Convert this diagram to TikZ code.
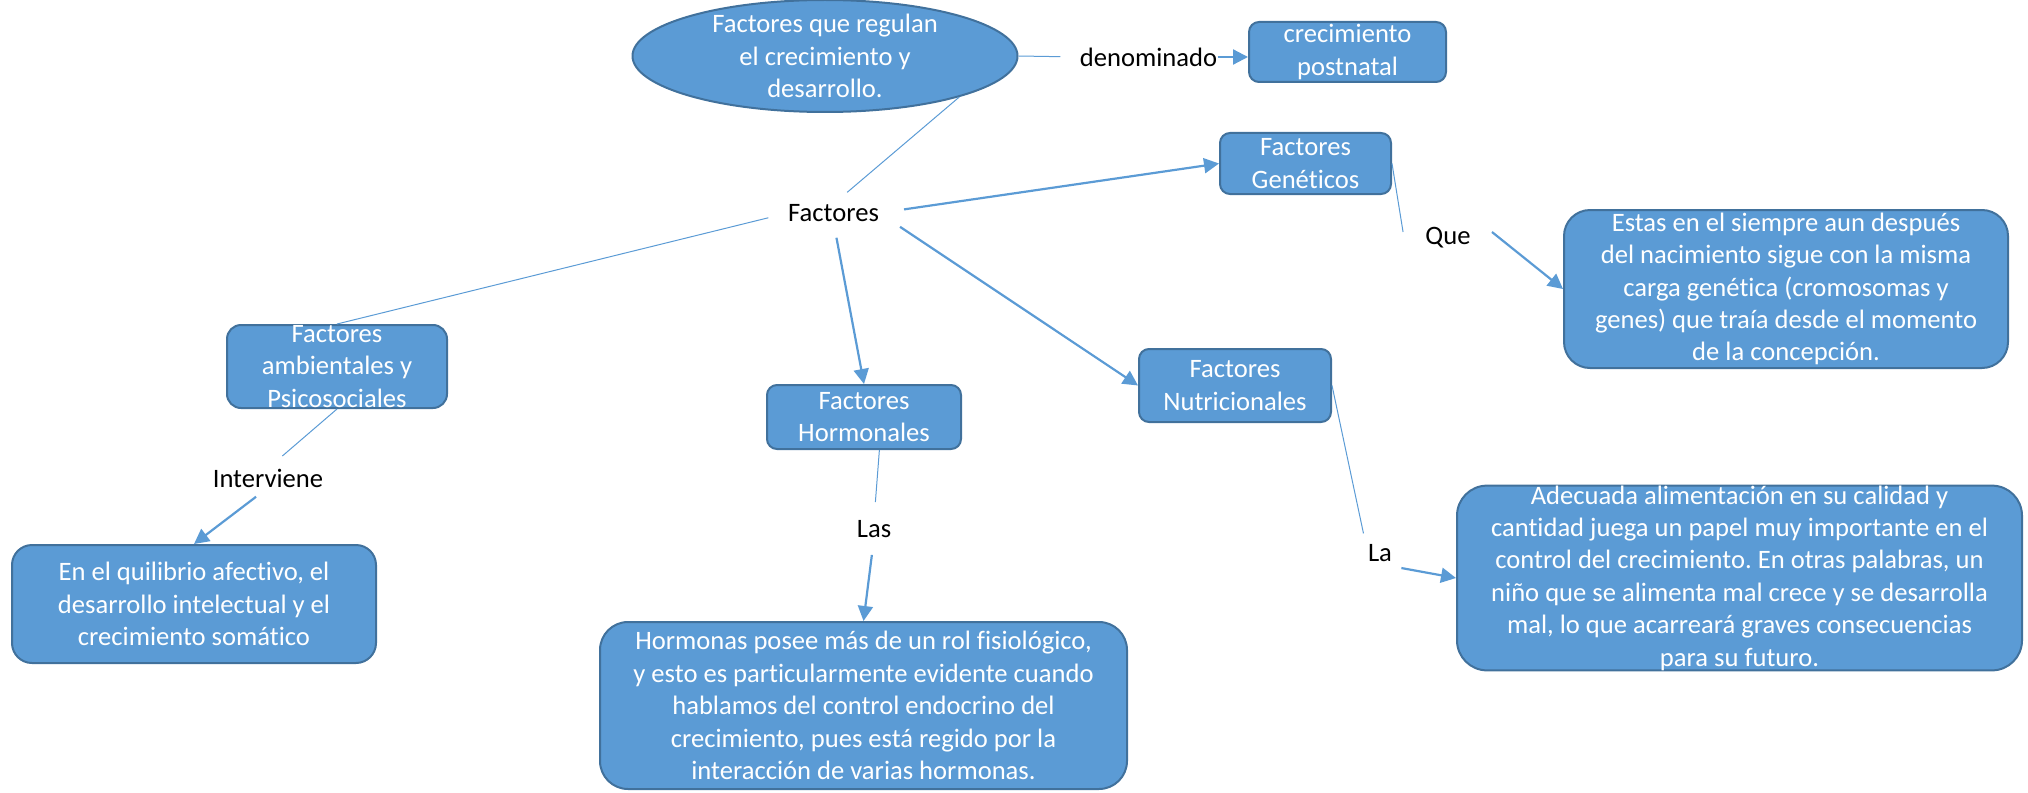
\documentclass[tikz,border=0pt]{standalone}
\usepackage{fontspec}
\setmainfont{Carlito}[Ligatures=NoCommon]
\usetikzlibrary{shapes.geometric,arrows.meta}
\definecolor{boxfill}{HTML}{5B9BD5}
\definecolor{boxline}{HTML}{41719C}
\frenchspacing

\begin{document}
\begin{tikzpicture}[x=0.5pt,y=-0.5pt,font=\fontsize{13.3}{16.2}\selectfont,
		box/.style={draw=boxline,line width=1pt,fill=boxfill,text=white,align=center,
			rounded corners=#1,inner sep=0pt},
		box/.default=5pt,
		oval/.style={ellipse,draw=boxline,line width=1pt,fill=boxfill,text=white,align=center,
			inner xsep=0pt,inner ysep=-5pt},
		word/.style={inner sep=0pt},
		thinline/.style={draw=boxfill,line width=0.5pt},
		link/.style={draw=boxfill,line width=1.1pt,-{Triangle[length=7.5pt,width=7.5pt]}}]
	\useasboundingbox (0,0) rectangle (2028,792);
	\node[oval,minimum width=192.5pt,minimum height=56pt] (regulan) at (825,56) {Factores que regulan\\el crecimiento y\\desarrollo.};
	\node[word] (denominado) at (1148.5,57) {denominado};
	\node[box,minimum width=98.5pt,minimum height=30pt] (postnatal) at (1347.5,52) {crecimiento\\postnatal};
	\node[word] (factores) at (833.5,213) {Factores};
	\node[box=7pt,minimum width=110pt,minimum height=41.5pt] (ambientales) at (337,366.5) {Factores\\ambientales y\\Psicosociales};
	\node[word] (interviene) at (268,478) {Interviene};
	\node[box=10pt,minimum width=182pt,minimum height=59pt] (somatico) at (194,604) {En el quilibrio afectivo, el\\desarrollo intelectual y el\\crecimiento somático};
	\node[box,minimum width=97pt,minimum height=32pt] (hormonales) at (864,417) {Factores\\Hormonales};
	\node[word] (las) at (874,529) {Las};
	\node[box=14pt,minimum width=263.5pt,minimum height=83.5pt] (hormonas) at (863.5,705.5) {Hormonas posee más de un rol fisiológico,\\y esto es particularmente evidente cuando\\hablamos del control endocrino del\\crecimiento, pues está regido por la\\interacción de varias hormonas.};
	\node[box,minimum width=85.5pt,minimum height=30.5pt] (geneticos) at (1305.5,163.5) {Factores\\Genéticos};
	\node[word] (que) at (1448,238) {Que};
	\node[box=13pt,minimum width=222pt,minimum height=79pt] (carga) at (1786,289) {Estas en el siempre aun después\\del nacimiento sigue con la misma\\carga genética (cromosomas y\\genes) que traía desde el momento\\de la concepción.};
	\node[box,minimum width=96pt,minimum height=36.5pt] (nutricionales) at (1235,385.5) {Factores\\Nutricionales};
	\node[word] (la) at (1380,553) {La};
	\node[box=15pt,minimum width=282.5pt,minimum height=90pt] (alimentacion) at (1739.5,578) {Adecuada alimentación en su calidad y\\cantidad juega un papel muy importante en el\\control del crecimiento. En otras palabras, un\\niño que se alimenta mal crece y se desarrolla\\mal, lo que acarreará graves consecuencias\\para su futuro.};
	\draw[thinline,shorten >=9.5pt] (regulan.east) -- (denominado.west);
	\draw[link] (denominado.east) -- (denominado.east -| postnatal.west);
	\draw[thinline,shorten >=9pt] (regulan.-17) -- (factores.north);
	\draw[thinline,shorten <=10pt] (factores.west) -- (ambientales.north);
	\draw[thinline,shorten >=9.5pt] (ambientales.south) -- (interviene.north);
	\draw[link,shorten <=7.5pt] (interviene.south) -- (somatico.north);
	\draw[link,shorten <=8pt] (factores.south) -- (hormonales.north);
	\draw[thinline,shorten >=9pt] (hormonales.-65) -- (las.north);
	\draw[link,shorten <=8.5pt] (las.south) -- (hormonas.north);
	\draw[link,shorten <=12.5pt] (factores.east) -- (geneticos.west);
	\draw[thinline] (geneticos.east) -- ([xshift=-11pt,yshift=3pt]que.west);
	\draw[link] ([xshift=10.5pt,yshift=3pt]que.east) -- (carga.west);
	\draw[link,shorten <=12.5pt] (factores.east) -- (nutricionales.west);
	\draw[thinline,shorten >=10pt] (nutricionales.east) -- (la.west);
	\draw[link] ([xshift=4.5pt,yshift=-3pt]la.south east) -- (alimentacion.west);
\end{tikzpicture}
\end{document}
